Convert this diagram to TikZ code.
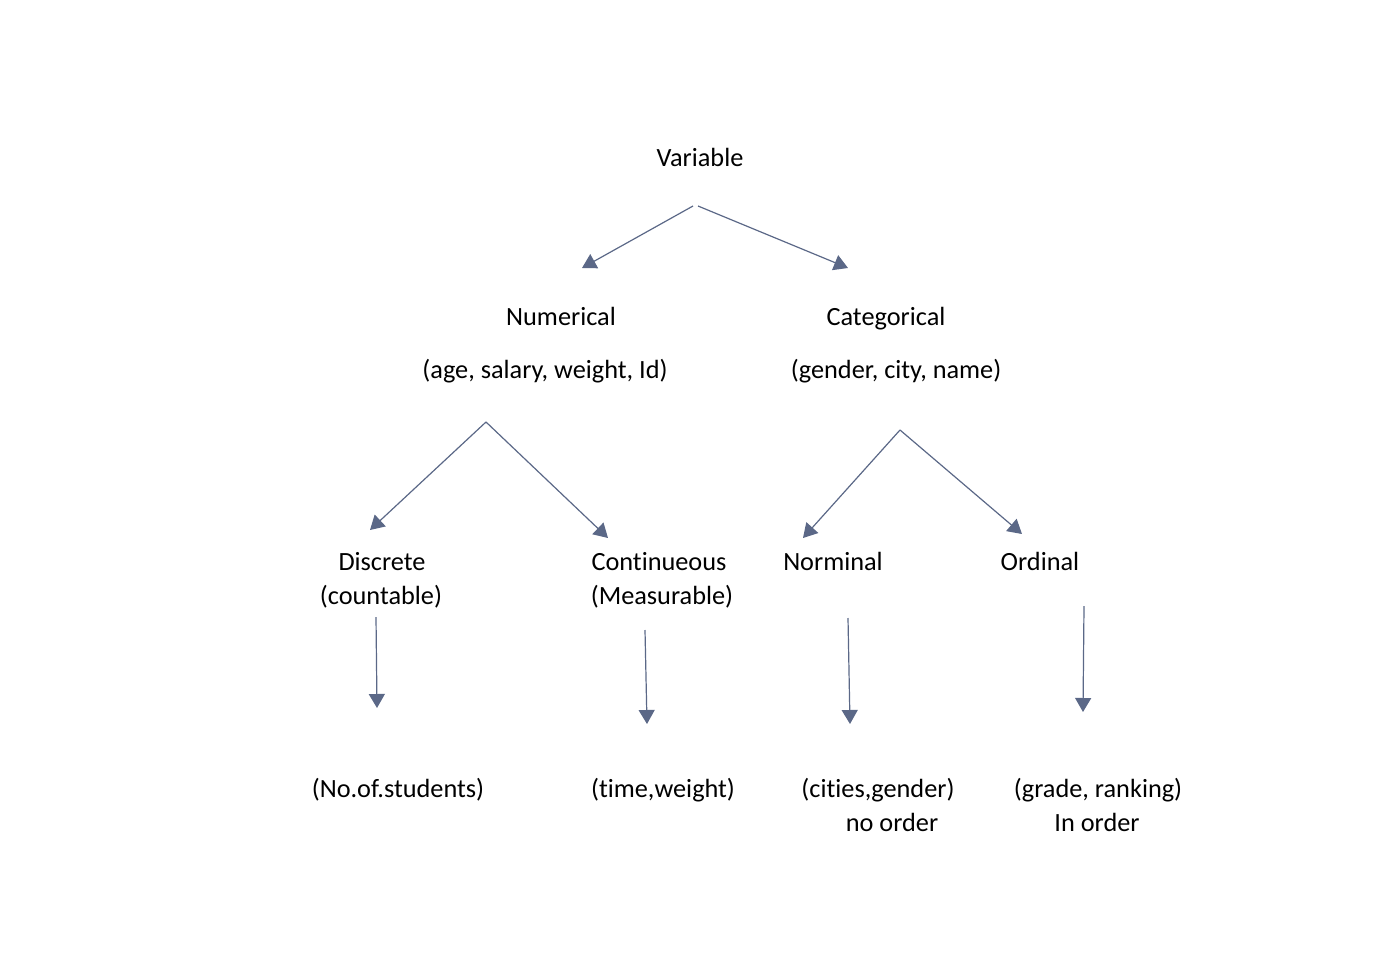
\documentclass[tikz,border=0pt]{standalone}
\usepackage{fontspec}
\setmainfont{Carlito}[Ligatures={NoCommon,NoContextual}]
\usetikzlibrary{arrows.meta}
\definecolor{arr}{HTML}{5B6887}
\newcommand{\nl}{\kern0pt }
\tikzset{
  lbl/.style={anchor=base, inner sep=0pt, font=\fontsize{26.3}{31}\selectfont, text=black},
  conn/.style={draw=arr, line width=1.2pt, -{Triangle[length=14pt,width=16pt]}}
}
\begin{document}
\begin{tikzpicture}[x=1pt,y=-1pt]
\useasboundingbox (0,0) rectangle (1400,953);
% labels
\node[lbl] (var) at (700,166) {Variable};
\node[lbl] (num) at (561,325) {Numerical};
\node[lbl] (numex) at (545,378) {(age, salary, weight, Id)};
\node[lbl] (cat) at (886,325) {Categorical};
\node[lbl] (catex) at (896,378) {(gender, city, name)};
\node[lbl] (disc) at (382,570) {Discrete};
\node[lbl] (count) at (381,604) {(countable)};
\node[lbl] (cont) at (659,570) {Cont\nl inueous};
\node[lbl] (meas) at (662,604) {(Measurable)};
\node[lbl] (nom) at (833,570) {Norminal};
\node[lbl] (ord) at (1040,570) {Ordinal};
\node[lbl] (stud) at (398,797) {(No.of.students)};
\node[lbl] (tw) at (663,797) {(t\nl ime,weight)};
\node[lbl] (cg) at (878,797) {(cit\nl ies,gender)};
\node[lbl] (noord) at (892,831) {no order};
\node[lbl] (gr) at (1098,797) {(grade, ranking)};
\node[lbl] (inord) at (1097,831) {In order};
% connector ends
\coordinate (a1s) at (693,206); \coordinate (a1e) at (582,268);
\coordinate (a2s) at (698,206); \coordinate (a2e) at (848,268);
\coordinate (a3s) at (486,422); \coordinate (a3e) at (370,530);
\coordinate (a4e) at (608,538);
\coordinate (a5s) at (900,430); \coordinate (a5e) at (803,538);
\coordinate (a6e) at (1022,534);
\coordinate (a7s) at (376,617); \coordinate (a7e) at (377,708);
\coordinate (a8s) at (645,630); \coordinate (a8e) at (647,724);
\coordinate (a9s) at (848,618); \coordinate (a9e) at (850,724);
\coordinate (a10s) at (1084,606); \coordinate (a10e) at (1083,712);
% connectors
\draw[conn] (a1s) -- (a1e);
\draw[conn] (a2s) -- (a2e);
\draw[conn] (a3s) -- (a3e);
\draw[conn] (a3s) -- (a4e);
\draw[conn] (a5s) -- (a5e);
\draw[conn] (a5s) -- (a6e);
\draw[conn] (a7s) -- (a7e);
\draw[conn] (a8s) -- (a8e);
\draw[conn] (a9s) -- (a9e);
\draw[conn] (a10s) -- (a10e);
\end{tikzpicture}
\end{document}
